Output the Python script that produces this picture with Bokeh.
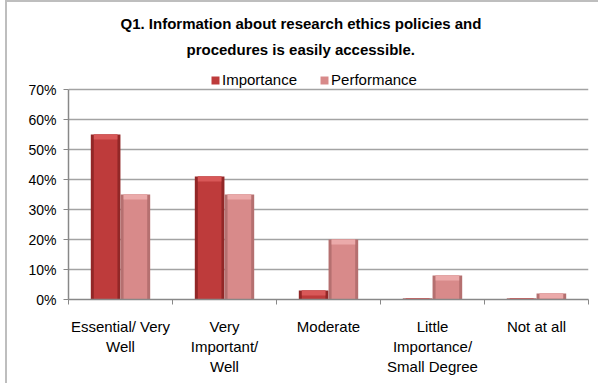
from bokeh.plotting import figure
from bokeh.models import (Range1d, LinearAxis, FixedTicker,
                          NumeralTickFormatter, Legend, LegendItem, Title, ColumnDataSource)
from bokeh.embed import file_html
from bokeh.resources import INLINE

# ---------------- data ----------------
title_lines = ["Q1. Information about research ethics policies and", "procedures is easily accessible."]
categories = ["Essential/ Very\nWell", "Very\nImportant/\nWell", "Moderate",
              "Little\nImportance/\nSmall Degree", "Not at all"]
series_names = ["Importance", "Performance"]
importance = [0.55, 0.41, 0.03, 0.003, 0.003]
performance = [0.35, 0.35, 0.20, 0.08, 0.02]
y_ticks = [0.0, 0.1, 0.2, 0.3, 0.4, 0.5, 0.6, 0.7]

# ---------------- style ----------------
FONT = "Liberation Sans"
FRAME_W = 520
PX_PER_10PCT = 30
N = len(categories)
Y_AXIS_TOP = y_ticks[-1]
px_x = N / FRAME_W                 # x units per pixel
px_y = 0.1 / PX_PER_10PCT          # y units per pixel
HEADROOM = 25 * px_y               # room for the legend inside the frame
BAR_W = 0.285
OFFSET = 0.143
EDGE = 3 * px_x
BEVEL = 5 * px_y

centers = [i + 0.5 for i in range(N)]
boundaries = list(range(N + 1))

colors = {
    "Importance": dict(edge="#922727", body="#BE3B3B", top="#D85858"),
    "Performance": dict(edge="#B57070", body="#D88A8A", top="#EBAAAA"),
}

p = figure(x_range=Range1d(0, N), y_range=Range1d(0, Y_AXIS_TOP + HEADROOM),
           width=593, height=383,
           output_backend="svg", toolbar_location=None, title=None,
           x_axis_location=None, y_axis_location="left",
           min_border_left=61, min_border_right=12, min_border_top=62, min_border_bottom=86)
p.styles = {"margin-left": "5px", "border-left": "2px solid #BEBEBE", "border-top": "2px solid #BEBEBE"}
p.outline_line_color = None
p.background_fill_color = "white"
p.border_fill_color = "white"

legend_items = []
for name, vals, off in [("Importance", importance, -OFFSET), ("Performance", performance, OFFSET)]:
    c = colors[name]
    src = ColumnDataSource(dict(x=[cx + off for cx in centers], top=vals,
                                bevel_bottom=[max(0.0, v - BEVEL) for v in vals]))
    p.vbar(x="x", top="top", bottom=0, width=BAR_W, source=src,
           fill_color=c["edge"], line_color=None)
    body = p.vbar(x="x", top="top", bottom=0, width=BAR_W - 2 * EDGE, source=src,
                  fill_color=c["body"], line_color=None)
    p.vbar(x="x", top="top", bottom="bevel_bottom", width=BAR_W - 2 * EDGE, source=src,
           fill_color=c["top"], line_color=None)
    legend_items.append(LegendItem(label=name, renderers=[body]))

# grid
p.xgrid.visible = False
p.ygrid.ticker = FixedTicker(ticks=y_ticks)
p.ygrid.grid_line_color = "#A3A3A3"
p.ygrid.grid_line_width = 1.5

# y axis
yax = p.yaxis[0]
yax.ticker = FixedTicker(ticks=y_ticks)
yax.bounds = (y_ticks[0], Y_AXIS_TOP)
yax.formatter = NumeralTickFormatter(format="0%")
yax.axis_line_color = "#888888"
yax.axis_line_width = 1.5
yax.major_tick_line_color = "#888888"
yax.major_tick_out = 5
yax.major_tick_in = 0
yax.minor_tick_line_color = None
yax.major_label_text_font = FONT
yax.major_label_text_font_size = "14px"
yax.major_label_text_color = "black"
yax.major_label_standoff = 7

# x axis: boundary ticks + category labels at centers
tick_axis = LinearAxis(ticker=FixedTicker(ticks=boundaries))
tick_axis.axis_line_color = "#888888"
tick_axis.axis_line_width = 1.5
tick_axis.major_tick_line_color = "#888888"
tick_axis.major_tick_out = 5
tick_axis.major_tick_in = 0
tick_axis.minor_tick_line_color = None
tick_axis.major_label_text_color = None
tick_axis.major_label_text_font_size = "1px"
tick_axis.major_label_standoff = 0
p.add_layout(tick_axis, "below")

cat_axis = LinearAxis(ticker=FixedTicker(ticks=centers),
                      major_label_overrides={cx: lab for cx, lab in zip(centers, categories)})
cat_axis.axis_line_color = None
cat_axis.major_tick_line_color = None
cat_axis.minor_tick_line_color = None
cat_axis.major_label_text_font = FONT
cat_axis.major_label_text_font_size = "15px"
cat_axis.major_label_text_color = "black"
cat_axis.major_label_text_line_height = 1.2
cat_axis.major_label_standoff = 7
cat_axis.major_label_orientation = "horizontal"
p.add_layout(cat_axis, "below")

legend = Legend(items=legend_items, orientation="horizontal", location=(142, 211))
legend.label_text_font = FONT
legend.label_text_font_size = "15px"
legend.label_text_color = "black"
legend.glyph_width = 10
legend.glyph_height = 10
legend.label_standoff = 2
legend.spacing = 22
legend.padding = 0
legend.margin = 0
legend.border_line_color = None
legend.background_fill_alpha = 0
p.add_layout(legend, "center")

title_offsets = [52, 118]
title_standoffs = [1, 13]
for line, off, so in reversed(list(zip(title_lines, title_offsets, title_standoffs))):
    p.add_layout(Title(text=line, align="left", offset=off, text_font=FONT,
                       text_font_size="15px", text_font_style="bold",
                       text_color="black", standoff=so), "above")

open("out.html", "w").write(file_html(p, INLINE))
